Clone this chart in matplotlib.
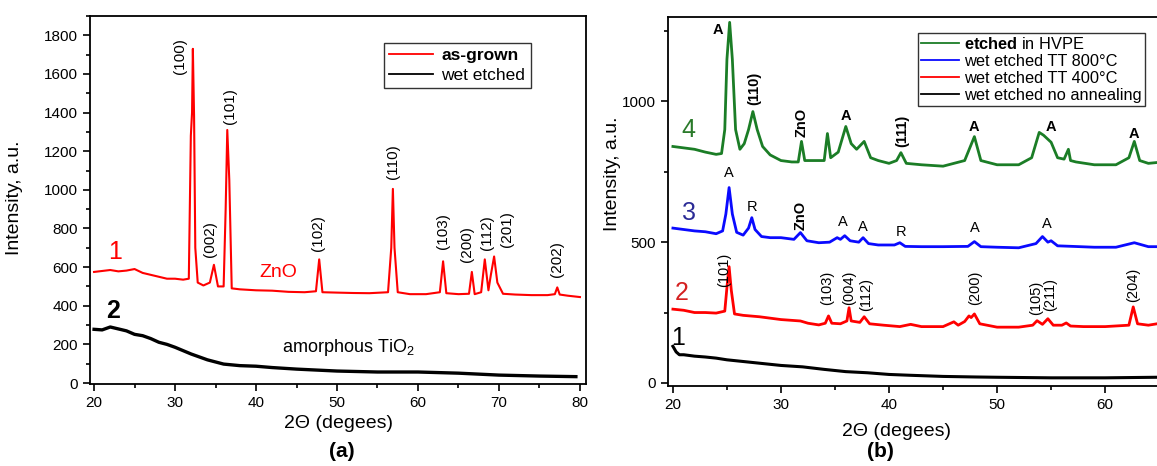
import matplotlib.pyplot as plt
from matplotlib.ticker import MultipleLocator

plt.rcParams['font.family'] = ['Liberation Sans', 'DejaVu Sans']
plt.rcParams['mathtext.fontset'] = 'custom'
plt.rcParams['mathtext.rm'] = 'Liberation Sans'
plt.rcParams['mathtext.bf'] = 'Liberation Sans:bold'

# ---------------- panel (a): ZnO ----------------
a_grown_x = [20, 21, 22, 23, 24, 25, 26, 27, 28, 29, 30, 31, 31.7, 31.95, 32.1, 32.2, 32.35,
             32.5, 32.8, 33.5, 34.3, 34.8, 35.3, 36.0, 36.25, 36.45, 36.7, 37.0, 38, 40, 42,
             44, 46, 47.4, 47.8, 48.2, 50, 52, 54, 56.3, 56.7, 56.9, 57.1, 57.5, 59, 61, 62.7,
             63.1, 63.5, 65, 66.3, 66.65, 67.0, 67.8, 68.25, 68.7, 69.0, 69.4, 69.8, 70.5, 72,
             74, 76, 76.9, 77.2, 77.5, 78.5, 80]
a_grown_y = [575, 580, 585, 578, 582, 590, 570, 560, 550, 540, 540, 535, 540, 1280, 1400, 1730,
             1380, 700, 520, 505, 520, 612, 500, 500, 900, 1310, 1050, 490, 485, 480, 478, 472,
             470, 475, 640, 470, 468, 466, 465, 470, 700, 1005, 700, 470, 460, 460, 470, 630,
             465, 460, 462, 575, 460, 470, 640, 480, 560, 655, 520, 462, 458, 455, 455, 460,
             495, 458, 452, 445]
a_etched_x = [20, 21, 22, 23, 24, 25, 26, 27, 28, 29, 30, 32, 34, 36, 38, 40, 42, 45, 48, 50,
              55, 60, 65, 70, 75, 79.5]
a_etched_y = [278, 275, 290, 280, 270, 252, 245, 230, 211, 200, 185, 150, 120, 98, 90, 87, 80,
              72, 66, 62, 57, 57, 51, 41, 36, 33]

a_peak_labels = ['(100)', '(002)', '(101)', '(102)', '(110)', '(103)', '(200)', '(112)',
                 '(201)', '(202)']
a_peak_x = [30.6, 34.3, 36.8, 47.7, 56.9, 63.1, 66.0, 68.5, 71.0, 77.2]
a_peak_y = [1690, 745, 1435, 775, 1145, 785, 720, 780, 795, 640]

# ---------------- panel (b): TiO2 ----------------
b4_x = [20, 21, 22, 23, 24, 24.5, 24.8, 25.0, 25.25, 25.5, 25.8, 26.2, 26.6, 27.0, 27.4, 27.8,
        28.3, 29, 30, 31, 31.6, 31.9, 32.2, 33, 34.0, 34.3, 34.6, 35.3, 36.0, 36.5, 37.0, 37.7,
        38.3, 39, 40, 40.7, 41.1, 41.6, 43, 45, 47.0, 47.9, 48.5, 50, 52, 53.2, 53.9, 54.3,
        55.0, 55.6, 56.2, 56.6, 56.8, 57.3, 59, 61, 62.2, 62.7, 63.2, 64, 64.8]
b4_y = [840, 835, 830, 820, 812, 815, 900, 1150, 1281, 1150, 900, 830, 850, 900, 964, 900,
        840, 810, 790, 785, 785, 858, 790, 790, 790, 886, 800, 820, 911, 850, 830, 858, 800,
        790, 780, 790, 818, 780, 775, 770, 790, 875, 790, 775, 775, 800, 890, 880, 855, 800,
        795, 830, 790, 785, 775, 775, 800, 858, 790, 780, 783]
b3_x = [20, 21, 22, 23, 24, 24.6, 24.9, 25.2, 25.5, 25.9, 26.5, 27.0, 27.3, 27.6, 28.2, 29,
        30, 31.2, 31.8, 32.4, 33.5, 34.5, 35.2, 35.5, 35.9, 36.4, 37.2, 37.6, 38.1, 39, 40.5,
        41.0, 41.5, 43, 45, 47.3, 47.9, 48.5, 50, 52, 53.6, 54.2, 54.7, 55.0, 55.6, 57, 59,
        61, 62.7, 64, 64.8]
b3_y = [550, 545, 540, 537, 530, 540, 600, 694, 600, 535, 525, 550, 587, 545, 520, 516, 516,
        510, 534, 505, 498, 500, 516, 510, 523, 505, 500, 516, 495, 490, 490, 498, 485, 484,
        484, 485, 502, 484, 482, 480, 495, 520, 500, 505, 487, 485, 482, 482, 498, 484, 484]
b2_x = [20, 21, 22, 23, 24, 24.8, 25.05, 25.2, 25.4, 25.7, 26.5, 28, 30, 31.8, 32.5, 33.5,
        34.1, 34.4, 34.7, 35.5, 36.1, 36.3, 36.5, 37.3, 37.7, 38.2, 39.5, 41, 42, 43, 45, 46.0,
        46.4, 47.0, 47.4, 47.6, 47.9, 48.4, 50, 52, 53.3, 53.7, 54.2, 54.7, 55.2, 56.0, 56.4,
        56.8, 58, 60, 62.2, 62.6, 63.0, 64, 64.8]
b2_y = [262, 258, 250, 250, 248, 255, 360, 413, 330, 245, 240, 235, 225, 220, 212, 206, 212,
        238, 212, 210, 220, 267, 220, 215, 235, 210, 205, 200, 208, 200, 200, 217, 205, 218,
        238, 232, 245, 210, 198, 198, 205, 221, 208, 228, 205, 205, 213, 202, 200, 200, 205,
        270, 210, 205, 210]
b1_x = [20, 20.3, 20.6, 21, 22, 23, 24, 25, 26, 28, 30, 32, 34, 36, 38, 40, 42, 45, 48, 50,
        55, 60, 64.8]
b1_y = [130, 110, 100, 100, 95, 92, 88, 82, 78, 70, 62, 57, 48, 40, 36, 30, 27, 23, 21, 20,
        18, 18, 20]

b4_labels = ['A', '(110)', 'ZnO', 'A', '(111)', 'A', 'A', 'A']
b4_lx = [24.2, 27.5, 31.9, 36.0, 41.2, 47.9, 55.0, 62.7]
b4_ly = [1253, 1046, 925, 947, 897, 908, 908, 883]
b4_rot = [0, 90, 90, 0, 90, 0, 0, 0]
b3_labels = ['A', 'R', 'ZnO', 'A', 'A', 'R', 'A', 'A']
b3_lx = [25.2, 27.3, 31.8, 35.7, 37.6, 41.1, 47.9, 54.6]
b3_ly = [747, 626, 594, 573, 555, 537, 552, 566]
b3_rot = [0, 0, 90, 0, 0, 0, 0, 0]
b2_labels = ['(101)', '(103)', '(004)', '(112)', '(200)', '(105)', '(211)', '(204)']
b2_lx = [24.7, 34.3, 36.3, 37.9, 48.0, 53.6, 54.9, 62.6]
b2_ly = [402, 337, 337, 313, 337, 302, 313, 349]

red = '#ff0000'
green = '#1b7d26'
blue = '#0a0aff'

fig = plt.figure(figsize=(11.57, 4.66), dpi=100)
ax1 = fig.add_axes([0.0778, 0.176, 0.4287, 0.7897])
ax2 = fig.add_axes([0.5774, 0.1717, 0.4226, 0.7918])

# ---- (a)
ax1.plot(a_grown_x, a_grown_y, color=red, lw=1.5, label='as-grown')
ax1.plot(a_etched_x, a_etched_y, color='black', lw=2.4, label='wet etched')
ax1.set_xlim(19.5, 80.75)
ax1.set_ylim(-5, 1900)
ax1.xaxis.set_major_locator(MultipleLocator(10))
ax1.xaxis.set_minor_locator(MultipleLocator(5))
ax1.yaxis.set_major_locator(MultipleLocator(200))
ax1.yaxis.set_minor_locator(MultipleLocator(100))
for lab, x, y in zip(a_peak_labels, a_peak_x, a_peak_y):
    ax1.text(x, y, lab, rotation=90, ha='center', va='center', fontsize=11)
ax1.text(42.7, 574, 'ZnO', color=red, fontsize=14, ha='center', va='center')
ax1.text(22.6, 680, '1', color=red, fontsize=18, ha='center', va='center')
ax1.text(22.4, 374, '2', color='black', fontsize=18, fontweight='bold', ha='center', va='center')
ax1.text(51.4, 185, 'amorphous TiO$_2$', fontsize=13, ha='center', va='center')
ax1.set_ylabel('Intensity, a.u.', fontsize=14)
ax1.yaxis.set_label_coords(-0.135, 0.505)
ax1.set_xlabel('2\u0398 (degees)', fontsize=14, labelpad=4)
leg1 = ax1.legend(loc='upper left', bbox_to_anchor=(0.593, 0.927), borderaxespad=0,
                  fontsize=12.5, frameon=True, fancybox=False, edgecolor='black',
                  handlelength=2.5, handletextpad=0.5, labelspacing=0.25, borderpad=0.3)
leg1.get_frame().set_linewidth(1.0)
leg1.get_texts()[0].set_fontweight('bold')
for line in leg1.get_lines():
    line.set_linewidth(1.3)

# ---- (b)
ax2.plot(b1_x, b1_y, color='black', lw=2.2, label='wet etched no annealing')
ax2.plot(b2_x, b2_y, color=red, lw=2.0, label='wet etched TT 400\u00b0C')
ax2.plot(b3_x, b3_y, color=blue, lw=2.0, label='wet etched TT 800\u00b0C')
ax2.plot(b4_x, b4_y, color=green, lw=2.0, label=r'$\mathbf{etched}$ in HVPE')
ax2.set_xlim(19.55, 64.8)
ax2.set_ylim(-11, 1300)
ax2.xaxis.set_major_locator(MultipleLocator(10))
ax2.xaxis.set_minor_locator(MultipleLocator(5))
ax2.yaxis.set_major_locator(MultipleLocator(500))
ax2.yaxis.set_minor_locator(MultipleLocator(250))
ax2.spines['right'].set_visible(False)
for lab, x, y, r in zip(b4_labels, b4_lx, b4_ly, b4_rot):
    ax2.text(x, y, lab, rotation=r, ha='center', va='center', fontsize=10.5, fontweight='bold')
for lab, x, y, r in zip(b3_labels, b3_lx, b3_ly, b3_rot):
    ax2.text(x, y, lab, rotation=r, ha='center', va='center', fontsize=10.5,
             fontweight='bold' if lab == 'ZnO' else 'normal')
for lab, x, y in zip(b2_labels, b2_lx, b2_ly):
    ax2.text(x, y, lab, rotation=90, ha='center', va='center', fontsize=10.5)
ax2.text(21.4, 900, '4', color='#2a7a2a', fontsize=18, ha='center', va='center')
ax2.text(21.5, 605, '3', color='#2b2b96', fontsize=18, ha='center', va='center')
ax2.text(20.8, 320, '2', color='#d42020', fontsize=18, ha='center', va='center')
ax2.text(20.5, 160, '1', color='black', fontsize=18, ha='center', va='center')
ax2.set_ylabel('Intensity, a.u.', fontsize=14)
ax2.yaxis.set_label_coords(-0.096, 0.574)
ax2.set_xlabel('2\u0398 (degees)', fontsize=14, labelpad=4)
ax2.xaxis.set_label_coords(0.468, -0.10)
h, l = ax2.get_legend_handles_labels()
leg2 = ax2.legend(h[::-1], l[::-1], loc='upper left', bbox_to_anchor=(0.511, 0.957),
                  borderaxespad=0, fontsize=11.8, frameon=True, fancybox=False,
                  edgecolor='black', handlelength=2.3, handletextpad=0.3, labelspacing=0.12,
                  borderpad=0.2)
leg2.get_frame().set_linewidth(1.0)
for line in leg2.get_lines():
    line.set_linewidth(1.3)

for ax in (ax1, ax2):
    ax.tick_params(which='both', direction='out', top=False, right=False, labelsize=11,
                   width=1.2)
    ax.tick_params(which='major', length=5)
    ax.tick_params(which='minor', length=3)
    for s in ax.spines.values():
        s.set_linewidth(1.3)

fig.text(0.2955, 0.02, '(a)', fontsize=15, fontweight='bold', ha='center')
fig.text(0.761, 0.02, '(b)', fontsize=15, fontweight='bold', ha='center')

fig.savefig('out.png', dpi=100)
